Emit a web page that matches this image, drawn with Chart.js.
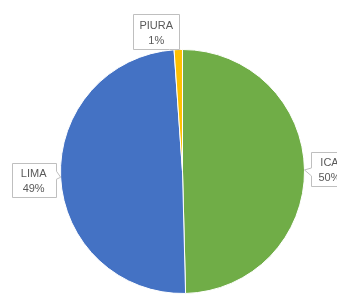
<!DOCTYPE html>
<html>
<head>
<meta charset="utf-8">
<script src="https://cdn.jsdelivr.net/npm/chart.js@4"></script>
<style>
  html, body { margin: 0; padding: 0; background: #fff; }
  #wrap { width: 337px; height: 294px; position: relative; }
</style>
</head>
<body>
<div id="wrap"><canvas id="grafico"></canvas></div>
<script>
var categorias = ["ICA", "LIMA", "PIURA"];
var valores = [49.6, 49.3, 1.1];
var etiquetas = ["50%", "49%", "1%"];
var colores = ["#70ad47", "#4472c4", "#ffc000"];

// caja de cada etiqueta: centro relativo al punto exterior del sector, y lado del piquito
var cajas = [
    { dx: 25, dy: -1, w: 36, h: 34, lado: "left" },
    { dx: -27, dy: 3, w: 44, h: 34, lado: "right" },
    { dx: -22, dy: -18, w: 46, h: 35, lado: "bottom" }
];

var etiquetasPlugin = {
    id: "etiquetas",
    afterDraw: function (chart) {
        var ctx = chart.ctx;
        var meta = chart.getDatasetMeta(0);
        ctx.save();
        ctx.font = "11px 'Liberation Sans', Arial, sans-serif";
        ctx.textAlign = "center";
        ctx.textBaseline = "middle";
        for (var i = 0; i < meta.data.length; i++) {
            var arc = meta.data[i];
            var p = arc.getProps(["x", "y", "startAngle", "endAngle", "outerRadius"], true);
            var ang = (p.startAngle + p.endAngle) / 2;
            var ax = p.x + Math.cos(ang) * p.outerRadius;
            var ay = p.y + Math.sin(ang) * p.outerRadius;
            var c = cajas[i];
            var cx = ax + c.dx, cy = ay + c.dy;
            var x0 = Math.round(cx - c.w / 2) + 0.5, y0 = Math.round(cy - c.h / 2) + 0.5;
            var x1 = x0 + c.w, y1 = y0 + c.h;

            ctx.beginPath();
            ctx.moveTo(x0, y0);
            ctx.lineTo(x1, y0);
            if (c.lado === "right") {
                ctx.lineTo(x1, ay - 6);
                ctx.lineTo(ax, ay);
                ctx.lineTo(x1, ay + 2);
            }
            ctx.lineTo(x1, y1);
            if (c.lado === "bottom") {
                ctx.lineTo(x1 - 2, y1);
                ctx.lineTo(ax, ay);
                ctx.lineTo(x1 - 10, y1);
            }
            ctx.lineTo(x0, y1);
            if (c.lado === "left") {
                ctx.lineTo(x0, ay + 6);
                ctx.lineTo(ax, ay);
                ctx.lineTo(x0, ay - 2);
            }
            ctx.closePath();
            ctx.fillStyle = "#ffffff";
            ctx.fill();
            ctx.strokeStyle = "#bfbfbf";
            ctx.lineWidth = 1;
            ctx.stroke();

            ctx.fillStyle = "#595959";
            ctx.fillText(categorias[i], cx, cy - 6);
            ctx.fillText(etiquetas[i], cx, cy + 9);
        }
        ctx.restore();
    }
};

new Chart(document.getElementById("grafico"), {
    type: "pie",
    data: {
        labels: categorias,
        datasets: [{
            data: valores,
            backgroundColor: colores,
            borderColor: "#ffffff",
            borderWidth: 1
        }]
    },
    options: {
        responsive: true,
        maintainAspectRatio: false,
        animation: false,
        layout: { padding: { top: 49, bottom: 0, left: 60, right: 32 } },
        plugins: {
            legend: { display: false },
            tooltip: { enabled: false }
        }
    },
    plugins: [etiquetasPlugin]
});
</script>
</body>
</html>
